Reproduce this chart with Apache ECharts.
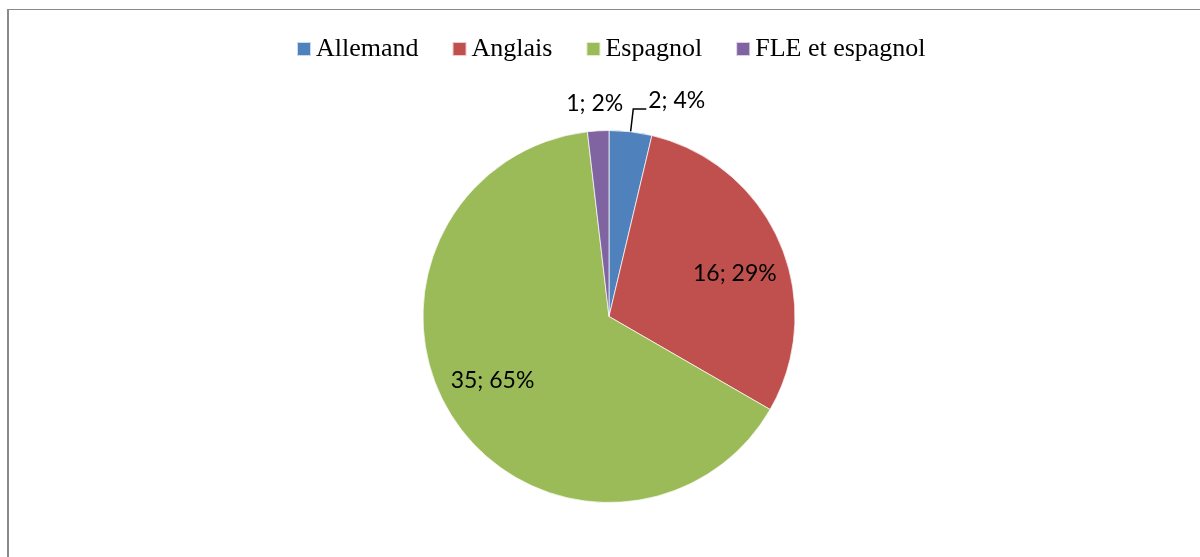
<!DOCTYPE html>
<html><head><meta charset="utf-8">
<script src="https://cdn.jsdelivr.net/npm/echarts@6/dist/echarts.min.js"></script>
<style>
html,body{margin:0;padding:0;background:#fff;}
#wrap{position:relative;width:1200px;height:557px;overflow:hidden;}
#c{width:1200px;height:557px;}
#frame{position:absolute;left:7px;top:9px;width:1300px;height:700px;border-left:2px solid #8a8a8a;border-top:1px solid #8a8a8a;pointer-events:none;}
</style></head><body>
<div id="wrap"><div id="c"></div><div id="frame"></div></div>
<script>
const categories = ['Allemand', 'Anglais', 'Espagnol', 'FLE et espagnol'];
const values = [2, 16, 35, 1];
const percentLabels = [4, 29, 65, 2];
const colors = ['#4F81BD', '#C0504D', '#9BBB59', '#8064A2'];

const labelFont = { fontFamily: 'Lato', fontSize: 23, color: '#000' };
const fmt = p => values[p.dataIndex] + '; ' + percentLabels[p.dataIndex] + '%';

const CENTER = [609, 316.5];
const R = 186;

function mainData() {
  return categories.map((name, i) => {
    const d = { name, value: values[i], itemStyle: { color: colors[i] } };
    if (i === 0) {
      d.label = { show: true, position: 'outside', distanceToLabelLine: 2 };
      d.labelLine = { show: true, length: 23, length2: 13, lineStyle: { color: '#000', width: 1.5 } };
    } else {
      d.label = { show: false };
      d.labelLine = { show: false };
    }
    return d;
  });
}
function ringData(showIdx) {
  return categories.map((name, i) => ({
    name, value: values[i],
    itemStyle: { color: 'rgba(0,0,0,0)', borderWidth: 0 },
    label: { show: showIdx.includes(i) },
    labelLine: { show: false }
  }));
}

const chart = echarts.init(document.getElementById('c'), null, { renderer: 'canvas' });
chart.setOption({
  animation: false,
  color: colors,
  legend: {
    data: categories,
    top: 31,
    left: 291,
    itemWidth: 14,
    itemHeight: 14,
    itemGap: 33,
    icon: 'rect',
    textStyle: { fontFamily: 'Liberation Serif', fontSize: 26, color: '#000' },
    selectedMode: false
  },
  series: [
    {
      type: 'pie',
      center: CENTER,
      radius: R,
      startAngle: 90,
      clockwise: true,
      avoidLabelOverlap: false,
      itemStyle: { borderColor: 'rgba(255,255,255,0.7)', borderWidth: 1 },
      label: Object.assign({ formatter: fmt }, labelFont),
      labelLayout: p => (p.dataIndex === 0 ? { dy: -8 } : {}),
      emphasis: { disabled: true },
      data: mainData()
    },
    {
      type: 'pie',
      center: CENTER,
      radius: [74, R],
      startAngle: 85.5,
      clockwise: true,
      silent: true,
      avoidLabelOverlap: false,
      label: Object.assign({ position: 'inside', formatter: fmt }, labelFont),
      emphasis: { disabled: true },
      data: ringData([1, 2])
    },
    {
      type: 'pie',
      center: CENTER,
      radius: [R, 234],
      startAngle: 90.5,
      clockwise: true,
      silent: true,
      avoidLabelOverlap: false,
      label: Object.assign({ position: 'inside', formatter: fmt }, labelFont),
      emphasis: { disabled: true },
      data: ringData([3])
    }
  ]
});
</script>
</body></html>
